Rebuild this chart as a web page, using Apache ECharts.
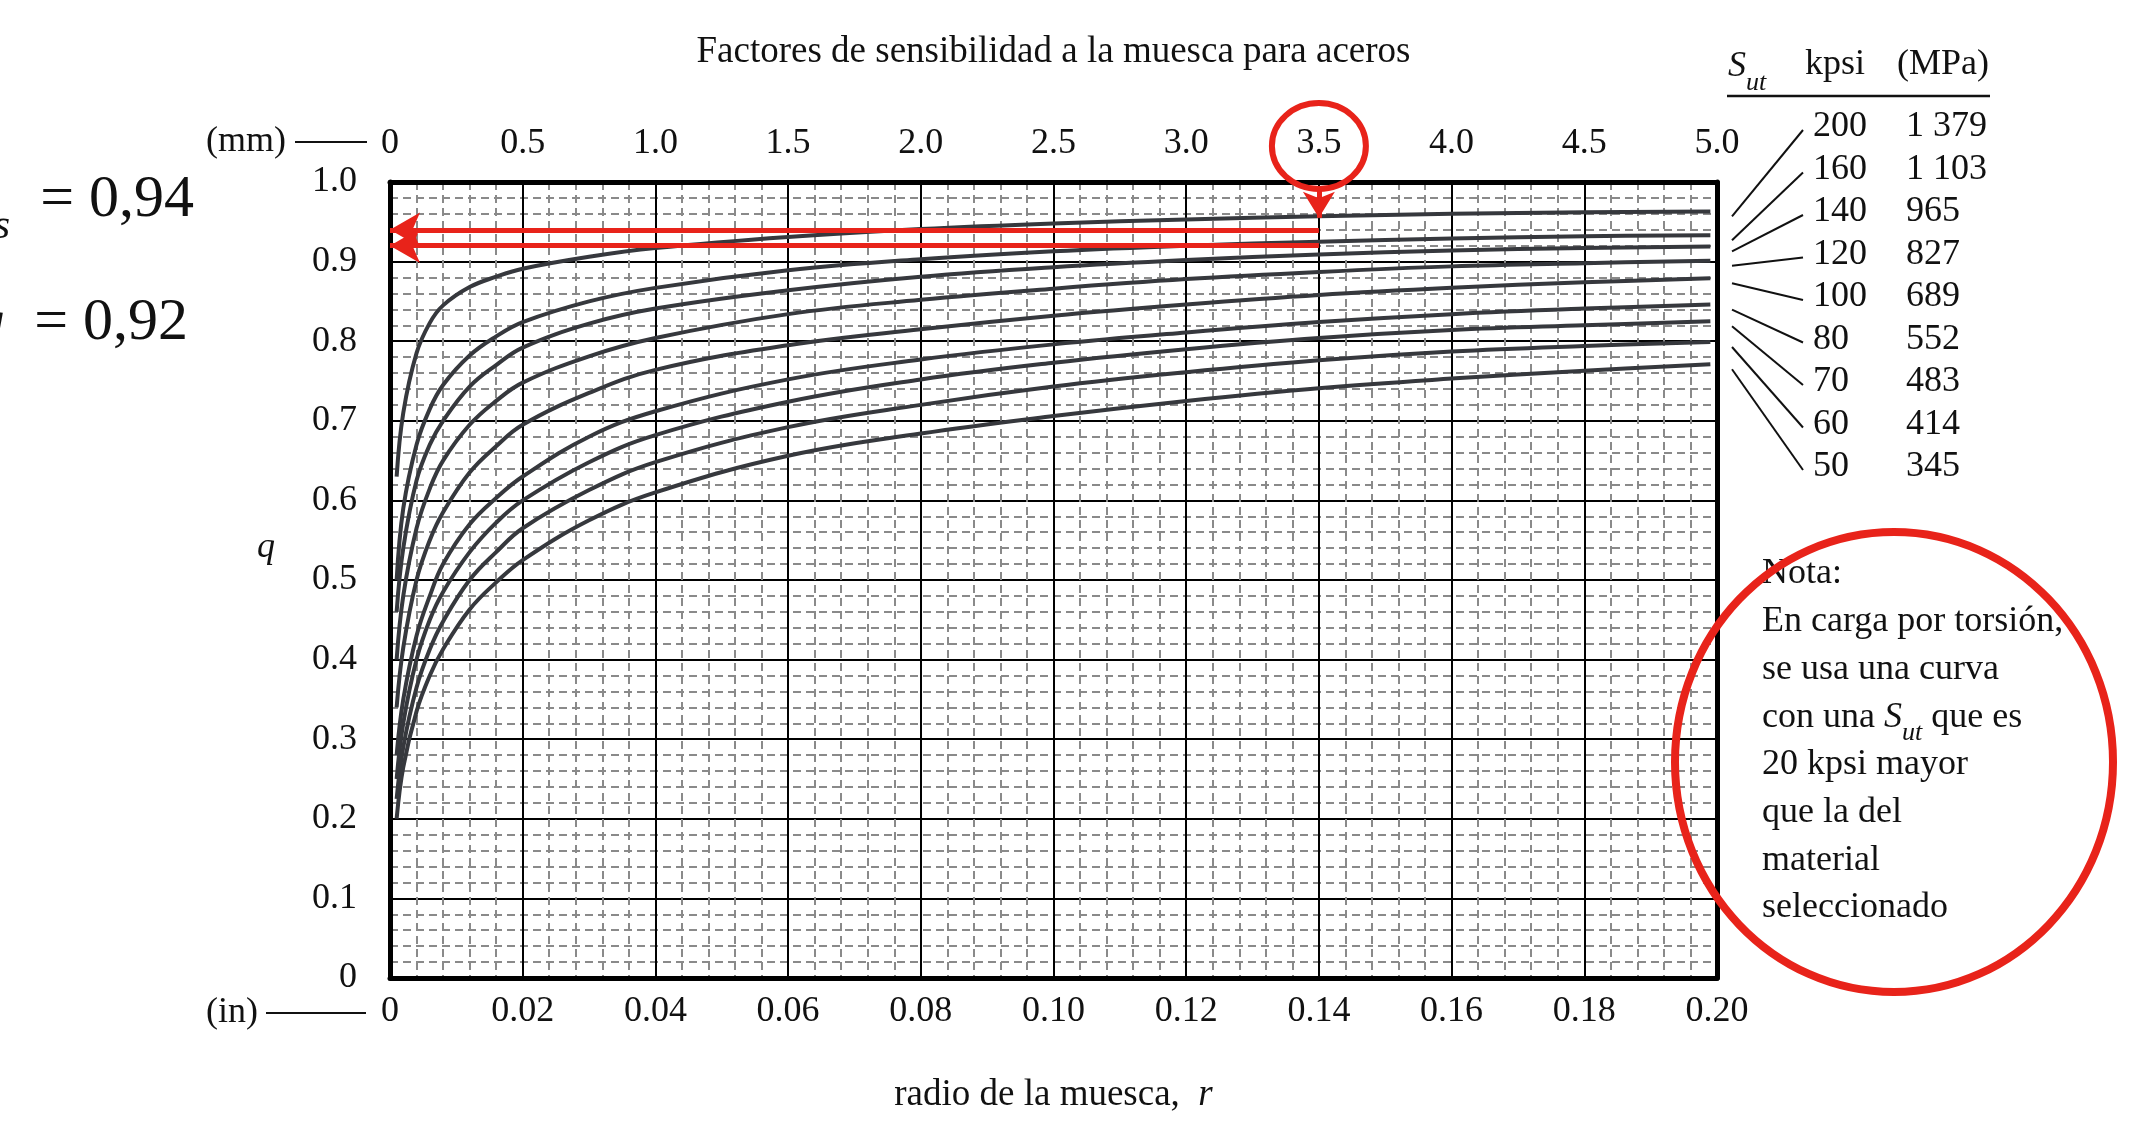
<!DOCTYPE html>
<html><head><meta charset="utf-8">
<script src="https://cdn.jsdelivr.net/npm/echarts@6/dist/echarts.min.js"></script>
<style>html,body{margin:0;padding:0;background:#fff}#c{width:2133px;height:1122px}</style>
</head><body><div id="c"></div>
<script>
// ---------- DATA ----------
const radiusIn = [0.001, 0.002, 0.004, 0.006, 0.008, 0.012, 0.016, 0.02, 0.03, 0.04, 0.06, 0.08, 0.10, 0.12, 0.14, 0.16, 0.18, 0.199];
const sutKpsi = [200, 160, 140, 120, 100, 80, 70, 60, 50];
const sutMPa = ['1 379', '1 103', '965', '827', '689', '552', '483', '414', '345'];
const q200 = [0.63, 0.71, 0.785, 0.823, 0.845, 0.868, 0.881, 0.891, 0.906, 0.917, 0.931, 0.941, 0.948, 0.953, 0.957, 0.960, 0.962, 0.963];
const q160 = [0.50, 0.59, 0.67, 0.715, 0.745, 0.782, 0.806, 0.824, 0.850, 0.867, 0.889, 0.903, 0.913, 0.920, 0.925, 0.929, 0.932, 0.933];
const q140 = [0.46, 0.54, 0.625, 0.67, 0.70, 0.743, 0.77, 0.792, 0.822, 0.841, 0.864, 0.881, 0.893, 0.902, 0.909, 0.914, 0.917, 0.919];
const q120 = [0.40, 0.48, 0.565, 0.615, 0.65, 0.695, 0.725, 0.748, 0.781, 0.804, 0.834, 0.852, 0.866, 0.878, 0.887, 0.894, 0.898, 0.901];
const q100 = [0.34, 0.415, 0.50, 0.55, 0.585, 0.635, 0.668, 0.695, 0.735, 0.764, 0.795, 0.815, 0.832, 0.846, 0.858, 0.867, 0.874, 0.879];
const q80  = [0.28, 0.35, 0.43, 0.48, 0.52, 0.57, 0.603, 0.63, 0.68, 0.712, 0.752, 0.777, 0.796, 0.811, 0.824, 0.834, 0.841, 0.846];
const q70  = [0.25, 0.32, 0.40, 0.45, 0.485, 0.535, 0.572, 0.60, 0.648, 0.682, 0.724, 0.752, 0.773, 0.790, 0.804, 0.814, 0.820, 0.825];
const q60  = [0.225, 0.29, 0.365, 0.413, 0.448, 0.50, 0.535, 0.565, 0.613, 0.648, 0.692, 0.720, 0.743, 0.761, 0.776, 0.787, 0.794, 0.799];
const q50  = [0.20, 0.265, 0.335, 0.38, 0.413, 0.463, 0.497, 0.525, 0.575, 0.610, 0.656, 0.684, 0.706, 0.725, 0.741, 0.753, 0.763, 0.771];
const qCurves = [q200, q160, q140, q120, q100, q80, q70, q60, q50];

const inTicks = ['0', '0.02', '0.04', '0.06', '0.08', '0.10', '0.12', '0.14', '0.16', '0.18', '0.20'];
const mmTicks = ['0', '0.5', '1.0', '1.5', '2.0', '2.5', '3.0', '3.5', '4.0', '4.5', '5.0'];
const qTicks = ['0', '0.1', '0.2', '0.3', '0.4', '0.5', '0.6', '0.7', '0.8', '0.9', '1.0'];

const titleText = 'Factores de sensibilidad a la muesca para aceros';
const xNameText = 'radio de la muesca,';
const noteLines = ['Nota:', 'En carga por torsión,', 'se usa una curva', 'con una S_ut que es', '20 kpsi mayor', 'que la del', 'material', 'seleccionado'];
const markMm = 3.5;          // highlighted radius (mm)
const markQ = [0.94, 0.92];
const markLabels = [['q', 's', '  = 0,94'], ['q', '', '  = 0,92']];

// ---------- STYLE ----------
const FONT = '"Liberation Serif", "Times New Roman", serif';
const RED = '#e8231a';
const CURVE = '#36383d';
const G = {left: 390, top: 182, width: 1327, height: 796};

const chart = echarts.init(document.getElementById('c'), null, {renderer: 'canvas'});

const lbl = {fontFamily: FONT, fontSize: 36, color: '#111'};
const series = qCurves.map((arr, i) => ({
  name: sutKpsi[i] + ' kpsi',
  type: 'line',
  xAxisIndex: 0, yAxisIndex: 0,
  data: radiusIn.map((r, j) => [r, arr[j]]),
  smooth: 0.4,
  symbol: 'none',
  lineStyle: {color: CURVE, width: 4},
  z: 3,
  silent: true
}));

series.push({
  name: 'marca',
  type: 'line',
  xAxisIndex: 1, yAxisIndex: 0,
  data: [],
  symbol: 'none',
  silent: true,
  z: 10,
  markLine: {
    silent: true,
    symbol: ['none', 'arrow'],
    symbolSize: [26, 30],
    label: {show: false},
    lineStyle: {color: RED, width: 5, type: 'solid'},
    emphasis: {disabled: true},
    data: [
      [{coord: [markMm, markQ[0]]}, {coord: [0, markQ[0]]}],
      [{coord: [markMm, markQ[1]]}, {coord: [0, markQ[1]]}],
      [{coord: [markMm, 0.99], symbolSize: 0}, {coord: [markMm, 0.955], symbolSize: [24, 26]}]
    ]
  }
});

chart.setOption({
  animation: false,
  backgroundColor: '#fff',
  grid: {left: G.left, top: G.top, width: G.width, height: G.height},
  xAxis: [
    {type: 'value', position: 'bottom', min: 0, max: 0.2, interval: 0.02,
     axisLine: {show: true, onZero: false, lineStyle: {color: '#000', width: 5}},
     axisTick: {show: false},
     axisLabel: Object.assign({margin: 16, formatter: v => inTicks[Math.round(v / 0.02)]}, lbl),
     splitLine: {show: true, lineStyle: {color: '#000', width: 2}},
     minorTick: {show: false, splitNumber: 5},
     minorSplitLine: {show: true, lineStyle: {color: '#8a8a8a', width: 2, type: [8, 5]}}},
    {type: 'value', position: 'top', min: 0, max: 5, interval: 0.5,
     axisLine: {show: true, onZero: false, lineStyle: {color: '#000', width: 5}},
     axisTick: {show: false},
     axisLabel: Object.assign({margin: 20, formatter: v => mmTicks[Math.round(v / 0.5)]}, lbl),
     splitLine: {show: false}}
  ],
  yAxis: [
    {type: 'value', position: 'left', min: 0, max: 1, interval: 0.1,
     axisLine: {show: true, onZero: false, lineStyle: {color: '#000', width: 5}},
     axisTick: {show: false},
     axisLabel: Object.assign({margin: 33, formatter: v => qTicks[Math.round(v * 10)]}, lbl),
     splitLine: {show: true, lineStyle: {color: '#000', width: 2}},
     minorTick: {show: false, splitNumber: 5},
     minorSplitLine: {show: true, lineStyle: {color: '#8a8a8a', width: 2, type: [8, 5]}}},
    {type: 'value', position: 'right', min: 0, max: 1, interval: 0.1,
     axisLine: {show: true, onZero: false, lineStyle: {color: '#000', width: 5}},
     axisTick: {show: false}, axisLabel: {show: false}, splitLine: {show: false}}
  ],
  series: series
});

// ---------- ANNOTATIONS (graphic) ----------
const gfx = [];
const cx = G.left + G.width / 2;
const txt = (x, y, text, opt) => gfx.push(Object.assign({
  type: 'text', x: x, y: y, silent: true, z: 50,
  style: Object.assign({text: text, fill: '#111', font: '36px ' + FONT, textAlign: 'left', textVerticalAlign: 'middle'}, opt || {})
}));
const baseRich = (size) => ({
  a: {fontFamily: FONT, fontSize: size, lineHeight: size + 4, padding: [0, 0, Math.round(size * 0.3), 0], verticalAlign: 'bottom', fill: '#111'},
  s: {fontFamily: FONT, fontSize: size, fontStyle: 'italic', lineHeight: size + 4, padding: [0, 0, Math.round(size * 0.3), 0], verticalAlign: 'bottom', fill: '#111'},
  b: {fontFamily: FONT, fontSize: Math.round(size * 0.72), fontStyle: 'italic', lineHeight: Math.round(size * 0.8), verticalAlign: 'bottom', fill: '#111'}
});
const richSub = (t) => {
  const k = t.indexOf('S_ut');
  if (k < 0) return '{a|' + t + '}';
  const pre = t.slice(0, k), post = t.slice(k + 4);
  return (pre ? '{a|' + pre + '}' : '') + '{s|S}{b|ut}' + (post ? '{a|' + post + '}' : '');
};

// title & axis names
txt(cx, 52, titleText, {textAlign: 'center', font: '37px ' + FONT});
txt(cx, 1095, '{a|' + xNameText + '  }{i|r}', {textAlign: 'center', rich: {
  a: {fontFamily: FONT, fontSize: 37, fill: '#111'},
  i: {fontFamily: FONT, fontSize: 37, fontStyle: 'italic', fill: '#111'}}});
txt(266, 548, 'q', {textAlign: 'center', font: 'italic 36px ' + FONT});

// unit tags
txt(286, 142, '(mm)', {textAlign: 'right'});
gfx.push({type: 'line', silent: true, z: 50, shape: {x1: 295, y1: 142, x2: 367, y2: 142}, style: {stroke: '#111', lineWidth: 2}});
txt(258, 1013, '(in)', {textAlign: 'right'});
gfx.push({type: 'line', silent: true, z: 50, shape: {x1: 266, y1: 1013, x2: 366, y2: 1013}, style: {stroke: '#111', lineWidth: 2}});

// legend table
const colS = 1728, colK = 1813, colM = 1906, rowY0 = 127, rowDy = 42.5;
txt(colS, 76, '{s|S}{b|ut}', {rich: baseRich(36)});
txt(1805, 65, 'kpsi');
txt(1897, 65, '(MPa)');
gfx.push({type: 'line', silent: true, z: 50, shape: {x1: 1727, y1: 96, x2: 1990, y2: 96}, style: {stroke: '#111', lineWidth: 2.5}});
sutKpsi.forEach((k, i) => {
  const y = rowY0 + i * rowDy;
  txt(colK, y, String(k));
  txt(colM, y, sutMPa[i]);
  const arr = qCurves[i];
  const p = chart.convertToPixel({xAxisIndex: 0, yAxisIndex: 0}, [radiusIn[radiusIn.length - 1], arr[arr.length - 1]]);
  gfx.push({type: 'line', silent: true, z: 50,
    shape: {x1: G.left + G.width + 15, y1: p[1] + 5, x2: colK - 10, y2: y + 3},
    style: {stroke: '#111', lineWidth: 2}});
});

// note
noteLines.forEach((t, i) => {
  txt(1762, 583 + i * 47.7, richSub(t), {rich: baseRich(36)});
});

// left read-off values (partly outside page)
markLabels.forEach((m, i) => {
  const y = i === 0 ? 216 : 339;
  const s = '{q|' + m[0] + '}' + (m[1] ? '{b|' + m[1] + '}' : '') + '{a|' + m[2] + '}';
  txt(i === 0 ? 194 : 188, y, s, {textAlign: 'right', rich: {
    q: {fontFamily: FONT, fontSize: 60, fontStyle: 'italic', lineHeight: 64, padding: [0, 0, 18, 0], verticalAlign: 'bottom', fill: '#111'},
    a: {fontFamily: FONT, fontSize: 60, lineHeight: 64, padding: [0, 0, 18, 0], verticalAlign: 'bottom', fill: '#111'},
    b: {fontFamily: FONT, fontSize: 42, fontStyle: 'italic', lineHeight: 46, verticalAlign: 'bottom', fill: '#111'}
  }});
});

// red circles
const mx = chart.convertToPixel({xAxisIndex: 1}, markMm);
gfx.push({type: 'ellipse', silent: true, z: 60, shape: {cx: mx, cy: G.top - 36, rx: 47, ry: 43}, style: {fill: 'none', stroke: RED, lineWidth: 6}});
gfx.push({type: 'ellipse', silent: true, z: 60, shape: {cx: 1894, cy: 762, rx: 219, ry: 230}, style: {fill: 'none', stroke: RED, lineWidth: 8}});

chart.setOption({graphic: gfx});
</script></body></html>
